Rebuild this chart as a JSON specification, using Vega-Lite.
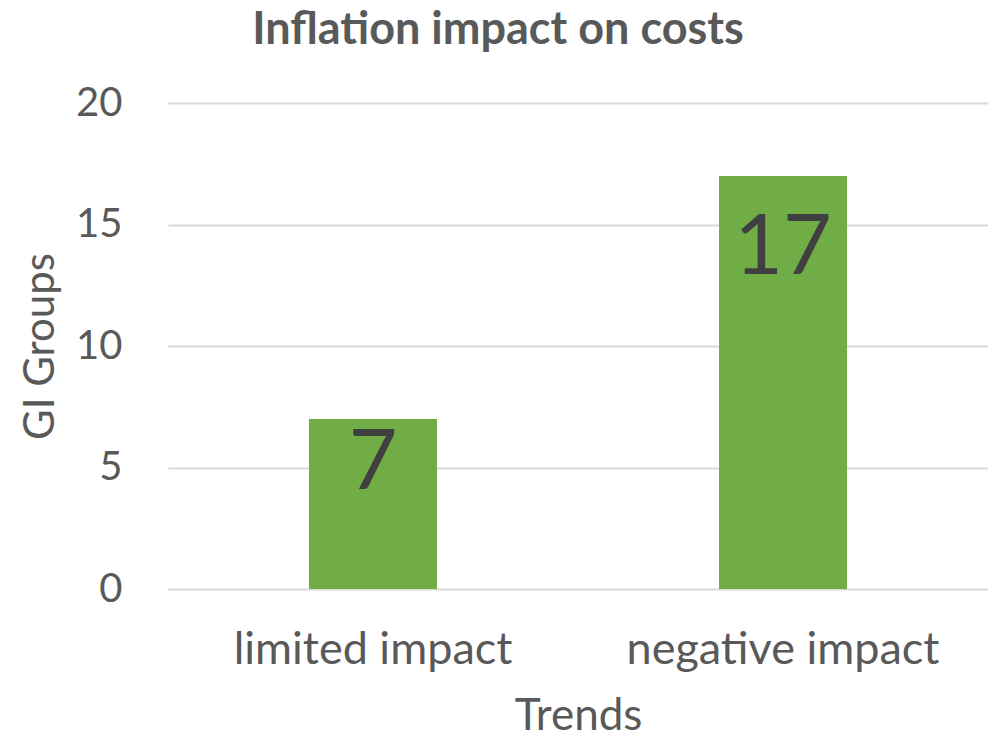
{
  "$schema": "https://vega.github.io/schema/vega-lite/v6.json",
  "autosize": "none",
  "width": 820,
  "height": 486,
  "padding": {"left": 168, "top": 103, "right": 0, "bottom": 149},
  "background": "white",
  "config": {"view": {"stroke": null}},
  "title": {
    "text": "Inflation impact on costs",
    "font": "Lato",
    "fontSize": 45,
    "fontWeight": "bold",
    "color": "#595959",
    "anchor": "middle",
    "frame": "group",
    "dx": -80,
    "offset": 30
  },
  "data": {
    "values": [
      {"Trend": "limited impact", "Groups": 7},
      {"Trend": "negative impact", "Groups": 17}
    ]
  },
  "encoding": {
    "x": {
      "field": "Trend",
      "type": "nominal",
      "sort": null,
      "scale": {"paddingInner": 0, "paddingOuter": 0},
      "title": "Trends",
      "axis": {
        "labelAngle": 0,
        "labelLimit": 500,
        "labelFont": "Lato",
        "labelFontSize": 45,
        "labelColor": "#595959",
        "labelPadding": 38,
        "titleFont": "Lato",
        "titleFontSize": 44,
        "titleFontWeight": "normal",
        "titleColor": "#595959",
        "titlePadding": 22,
        "ticks": false,
        "domain": false,
        "grid": false
      }
    }
  },
  "layer": [
    {
      "mark": {"type": "bar", "color": "#70AD47", "width": 128},
      "encoding": {
        "y": {
          "field": "Groups",
          "type": "quantitative",
          "scale": {"domain": [0, 20]},
          "title": "GI Groups",
          "axis": {
            "values": [0, 5, 10, 15, 20],
            "labelFont": "Lato",
            "labelFontSize": 40,
            "labelColor": "#595959",
            "labelPadding": 46,
            "titleFont": "Lato",
            "titleFontSize": 42,
            "titleFontWeight": "normal",
            "titleColor": "#595959",
            "titlePadding": 13,
            "ticks": false,
            "domain": false,
            "gridColor": "#D9D9D9",
            "gridWidth": 2
          }
        }
      }
    },
    {
      "transform": [{"filter": "datum.Trend === 'limited impact'"}],
      "mark": {
        "type": "text",
        "baseline": "top",
        "dy": 4,
        "font": "Lato",
        "fontSize": 84,
        "color": "#404040"
      },
      "encoding": {
        "y": {"field": "Groups", "type": "quantitative"},
        "text": {"field": "Groups", "type": "quantitative"}
      }
    },
    {
      "transform": [{"filter": "datum.Trend === 'negative impact'"}],
      "mark": {
        "type": "text",
        "baseline": "top",
        "dy": 32,
        "font": "Lato",
        "fontSize": 84,
        "color": "#404040"
      },
      "encoding": {
        "y": {"field": "Groups", "type": "quantitative"},
        "text": {"field": "Groups", "type": "quantitative"}
      }
    }
  ]
}
